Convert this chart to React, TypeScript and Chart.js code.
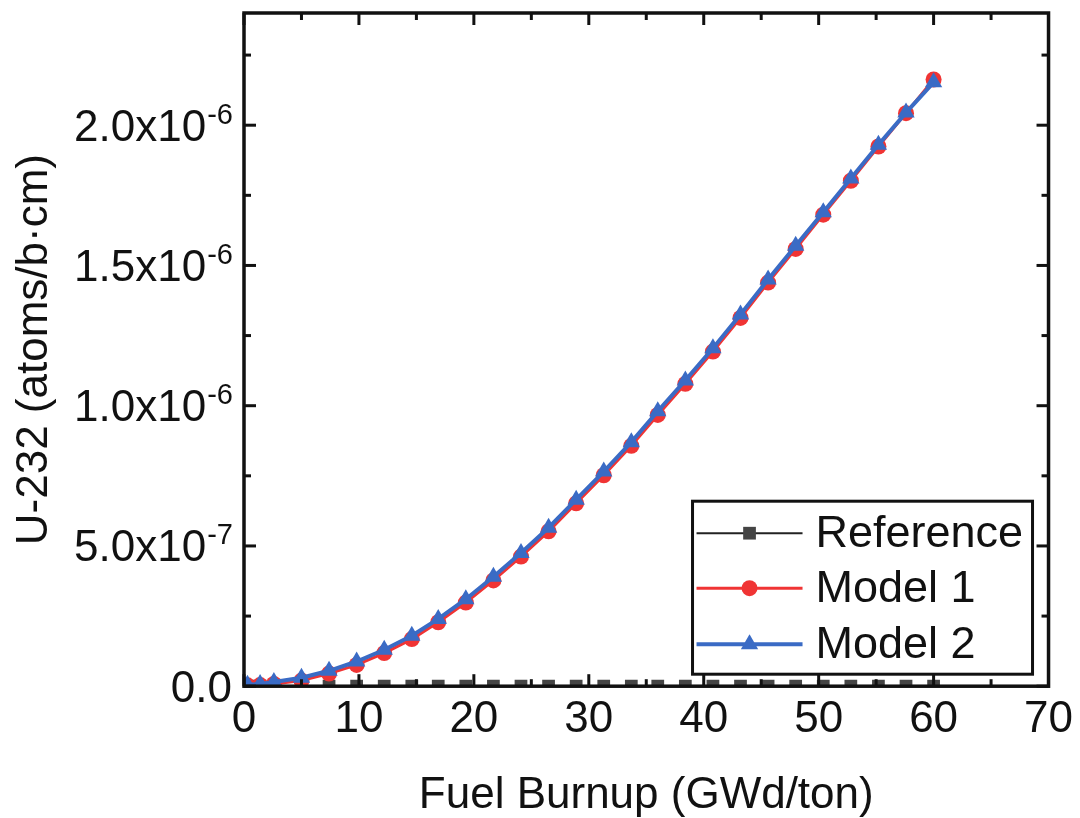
import React, { useEffect, useRef } from 'react';
import { Chart, registerables } from 'chart.js';

Chart.register(...registerables);

// ---- Data ----
const burnup = [0.3, 1.4, 2.6, 5.0, 7.4, 9.8, 12.2, 14.6, 16.9, 19.3, 21.7, 24.1, 26.5, 28.9, 31.3, 33.7, 36.0, 38.4, 40.8, 43.2, 45.6, 48.0, 50.4, 52.8, 55.2, 57.6, 60.0];
const referenceValues = [0, 0, 0, 0, 0, 0, 0, 0, 0, 0, 0, 0, 0, 0, 0, 0, 0, 0, 0, 0, 0, 0, 0, 0, 0, 0, 0];
const model1Values = [0.003e-6, 0.004e-6, 0.008e-6, 0.02e-6, 0.045e-6, 0.076e-6, 0.118e-6, 0.168e-6, 0.228e-6, 0.298e-6, 0.377e-6, 0.462e-6, 0.552e-6, 0.652e-6, 0.752e-6, 0.857e-6, 0.967e-6, 1.078e-6, 1.193e-6, 1.313e-6, 1.439e-6, 1.559e-6, 1.681e-6, 1.802e-6, 1.924e-6, 2.043e-6, 2.163e-6];
const model2Values = [0.005e-6, 0.008e-6, 0.015e-6, 0.03e-6, 0.055e-6, 0.088e-6, 0.13e-6, 0.18e-6, 0.24e-6, 0.31e-6, 0.39e-6, 0.475e-6, 0.565e-6, 0.665e-6, 0.765e-6, 0.87e-6, 0.98e-6, 1.09e-6, 1.205e-6, 1.325e-6, 1.45e-6, 1.57e-6, 1.69e-6, 1.81e-6, 1.93e-6, 2.045e-6, 2.153e-6];

const seriesLabels = ['Reference', 'Model 1', 'Model 2'];
const xTickValues = [0, 10, 20, 30, 40, 50, 60, 70];
const yTickValues = [0, 5e-7, 1e-6, 1.5e-6, 2e-6];
const yTickMantissas = ['0.0', '5.0x10', '1.0x10', '1.5x10', '2.0x10'];
const yTickExponents = ['', '-7', '-6', '-6', '-6'];
const xTitle = 'Fuel Burnup (GWd/ton)';
const yTitle = 'U-232 (atoms/b\u00B7cm)';

const FONT = '"Liberation Sans", Arial, Helvetica, sans-serif';
const INK = '#111111';
const RED = '#f03434';
const BLUE = '#3a6bc5';
const GREY = '#444444';

function drawMarker(ctx: CanvasRenderingContext2D, style: string, x: number, y: number, r: number, color: string) {
  ctx.save();
  ctx.fillStyle = color;
  ctx.beginPath();
  if (style === 'rect') {
    const s = r * Math.SQRT1_2;
    ctx.rect(x - s, y - s, 2 * s, 2 * s);
  } else if (style === 'circle') {
    ctx.arc(x, y, r, 0, Math.PI * 2);
  } else {
    ctx.moveTo(x, y - r);
    ctx.lineTo(x + 0.866 * r, y + 0.5 * r);
    ctx.lineTo(x - 0.866 * r, y + 0.5 * r);
    ctx.closePath();
  }
  ctx.fill();
  ctx.restore();
}

const framePlugin = {
  id: 'frameAndLegend',
  afterDatasetsDraw(chart: any) {
    const { ctx, chartArea: a, scales } = chart;
    const xs = scales.x;
    const ys = scales.y;
    ctx.save();
    ctx.strokeStyle = INK;
    ctx.lineCap = 'butt';

    const line = (x1: number, y1: number, x2: number, y2: number) => {
      ctx.beginPath();
      ctx.moveTo(x1, y1);
      ctx.lineTo(x2, y2);
      ctx.stroke();
    };

    // inward ticks, all four sides
    ctx.lineWidth = 3;
    const major = 12;
    const minor = 7;
    for (let i = 0; i <= 14; i++) {
      const v = i * 5;
      const px = xs.getPixelForValue(v);
      const len = i % 2 === 0 ? major : minor;
      line(px, a.bottom, px, a.bottom - len);
      line(px, a.top, px, a.top + len);
    }
    for (let i = 0; i <= 9; i++) {
      const v = i * 2.5e-7;
      const py = ys.getPixelForValue(v);
      const len = i % 2 === 0 ? major : minor;
      line(a.left, py, a.left + len, py);
      line(a.right, py, a.right - len, py);
    }

    // frame
    ctx.lineWidth = 3.5;
    ctx.strokeRect(a.left, a.top, a.right - a.left, a.bottom - a.top);

    // y tick labels with superscript exponents
    ctx.fillStyle = INK;
    ctx.textBaseline = 'alphabetic';
    ctx.textAlign = 'left';
    const rightEdge = a.left - 12;
    yTickValues.forEach((v, i) => {
      const py = ys.getPixelForValue(v);
      const mainFont = `44px ${FONT}`;
      const supFont = `29px ${FONT}`;
      ctx.font = supFont;
      const supW = yTickExponents[i] ? ctx.measureText(yTickExponents[i]).width : 0;
      ctx.font = mainFont;
      const mainW = ctx.measureText(yTickMantissas[i]).width;
      const baseline = py + 15.5;
      const x0 = rightEdge - supW - mainW;
      ctx.fillText(yTickMantissas[i], x0, baseline);
      if (yTickExponents[i]) {
        ctx.font = supFont;
        ctx.fillText(yTickExponents[i], x0 + mainW + 1, baseline - 17);
      }
    });

    // legend box
    const lgRight = a.right - 16;
    const lgBottom = a.bottom - 12;
    const lgLeft = lgRight - 340;
    const lgTop = lgBottom - 173;
    ctx.fillStyle = '#ffffff';
    ctx.fillRect(lgLeft, lgTop, lgRight - lgLeft, lgBottom - lgTop);
    ctx.lineWidth = 3;
    ctx.strokeStyle = INK;
    ctx.strokeRect(lgLeft, lgTop, lgRight - lgLeft, lgBottom - lgTop);

    const ds = chart.data.datasets;
    const rowYs = [lgTop + 32, lgTop + 87, lgTop + 143];
    ds.forEach((d: any, i: number) => {
      const ry = rowYs[i];
      ctx.strokeStyle = d.borderColor;
      ctx.lineWidth = d.borderWidth;
      line(lgLeft + 4, ry, lgLeft + 110, ry);
      drawMarker(ctx, d.pointStyle, lgLeft + 57, ry, d.pointRadius, d.pointBackgroundColor);
      ctx.fillStyle = INK;
      ctx.font = `45px ${FONT}`;
      ctx.textBaseline = 'middle';
      ctx.fillText(d.label, lgLeft + 123, ry + 1);
    });

    ctx.restore();
  },
};

export default function App() {
  const canvasRef = useRef<HTMLCanvasElement | null>(null);

  useEffect(() => {
    if (!canvasRef.current) return;
    const toPoints = (vals: number[]) => burnup.map((x, i) => ({ x, y: vals[i] }));
    const chart = new Chart(canvasRef.current, {
      type: 'line',
      data: {
        datasets: [
          {
            label: seriesLabels[0],
            data: toPoints(referenceValues),
            borderColor: '#222222',
            backgroundColor: GREY,
            pointBackgroundColor: GREY,
            pointBorderColor: GREY,
            borderWidth: 2,
            pointStyle: 'rect',
            pointRadius: 9,
            pointBorderWidth: 0,
            order: 3,
            clip: 0,
          },
          {
            label: seriesLabels[1],
            data: toPoints(model1Values),
            borderColor: RED,
            backgroundColor: RED,
            pointBackgroundColor: RED,
            pointBorderColor: RED,
            borderWidth: 3,
            pointStyle: 'circle',
            pointRadius: 8,
            pointBorderWidth: 0,
            order: 2,
            clip: 0,
          },
          {
            label: seriesLabels[2],
            data: toPoints(model2Values),
            borderColor: BLUE,
            backgroundColor: BLUE,
            pointBackgroundColor: BLUE,
            pointBorderColor: BLUE,
            borderWidth: 4,
            pointStyle: 'triangle',
            pointRadius: 10,
            pointBorderWidth: 0,
            order: 1,
            clip: 0,
          },
        ],
      },
      options: {
        animation: false,
        responsive: true,
        maintainAspectRatio: false,
        layout: { padding: { left: 12, right: 28, top: 13, bottom: 0 } },
        plugins: {
          legend: { display: false },
          tooltip: { enabled: false },
        },
        elements: { line: { tension: 0 } },
        scales: {
          x: {
            type: 'linear',
            min: 0,
            max: 70,
            afterBuildTicks: (scale: any) => {
              scale.ticks = xTickValues.map((v) => ({ value: v }));
            },
            ticks: {
              color: INK,
              padding: 7,
              font: { family: FONT, size: 44 },
              maxRotation: 0,
              autoSkip: false,
            },
            grid: { display: false, drawTicks: false },
            border: { display: false },
            title: {
              display: true,
              text: xTitle,
              color: INK,
              font: { family: FONT, size: 44, lineHeight: 1.0 },
              padding: { top: 21, bottom: 0 },
            },
          },
          y: {
            type: 'linear',
            min: 0,
            max: 2.4e-6,
            ticks: { display: false },
            grid: { display: false, drawTicks: false },
            border: { display: false },
            title: {
              display: true,
              text: yTitle,
              color: INK,
              font: { family: FONT, size: 44, lineHeight: 1.0 },
              padding: { top: 1, bottom: 187 },
            },
          },
        },
      },
      plugins: [framePlugin],
    } as any);
    return () => chart.destroy();
  }, []);

  return (
    <div style={{ position: 'absolute', left: 0, top: 0, width: 1080, height: 818, background: '#ffffff' }}>
      <canvas ref={canvasRef} />
    </div>
  );
}
